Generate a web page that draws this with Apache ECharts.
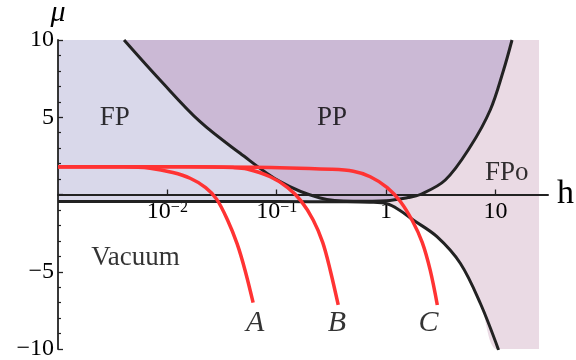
<!DOCTYPE html>
<html>
<head>
<meta charset="utf-8">
<script src="https://cdn.jsdelivr.net/npm/echarts@6/dist/echarts.min.js"></script>
<style>
    html, body { margin: 0; padding: 0; background: #fff; }
    #chart { width: 576px; height: 360px; }
</style>
</head>
<body>
<div id="chart"></div>
<script>
    // curves: log10(h) and mu
    const ppLogH = [-2.396, -2.067, -1.701, -1.335, -0.969, -0.603, -0.3, 0, 0.2, 0.312, 0.541, 0.769, 0.952, 1.074, 1.151];
    const ppMu   = [10, 7.41, 4.71, 2.67, 0.83, -0.23, -0.44, -0.4, -0.2, 0, 0.94, 3.09, 5.47, 8.06, 10];

    const vacLogH = [-3, -1, -0.4, -0.15, 0.007, 0.12, 0.248, 0.465, 0.678, 0.861, 1.028];
    const vacMu   = [-0.46, -0.46, -0.47, -0.5, -0.6, -1.0, -1.65, -2.73, -4.45, -7.04, -10.06];

    const aLogH = [-3, -2.4, -2.158, -1.95, -1.792, -1.65, -1.55, -1.45, -1.362, -1.29, -1.216];
    const aMu   = [1.8, 1.79, 1.7, 1.42, 1.05, 0.45, -0.3, -1.65, -3.2, -4.9, -7.0];

    const bLogH = [-3, -1.8, -1.4, -1.271, -1.06, -0.9, -0.78, -0.667, -0.58, -0.511, -0.438];
    const bMu   = [1.8, 1.79, 1.74, 1.65, 1.15, 0.45, -0.4, -1.65, -3.1, -4.9, -7.15];

    const cLogH = [-3, -1.2, -0.5, -0.3, -0.145, 0.01, 0.13, 0.24, 0.33, 0.403, 0.468];
    const cMu   = [1.8, 1.77, 1.63, 1.5, 1.15, 0.45, -0.45, -1.7, -3.1, -4.9, -7.15];

    const shadeEndH = 25;
    const hTicks = [0.01, 0.1, 1, 10];

    const regionNames = ['FP', 'PP', 'FPo', 'Vacuum'];
    const regionH = [0.0033, 0.32, 12.7, 0.0051];
    const regionMu = [4.95, 4.93, 1.37, -4.13];

    const curveNames = ['A', 'B', 'C'];
    const curveLabelH = [0.0634, 0.355, 2.44];
    const curveLabelMu = [-8.34, -8.34, -8.34];

    const serif = '"Liberation Serif", "Times New Roman", serif';
    const gridTop = 40, gridBottom = 11;
    const plotH = 360 - gridTop - gridBottom;

    function pts(logH, mu) {
        return logH.map((t, i) => [Math.pow(10, t), mu[i]]);
    }

    let vac = pts(vacLogH, vacMu);
    let fpFill = vac.filter(p => p[0] <= 1.02);
    let fpoFill = vac.filter(p => p[0] >= 1).concat([[shadeEndH, vacMu[vacMu.length - 1]]]);

    function fill(data, color, smooth) {
        return {
            type: 'line', data: data, symbol: 'none', z: 1, silent: true, smooth: smooth,
            lineStyle: { width: 0 },
            areaStyle: { color: color, opacity: 1, origin: 'end' }
        };
    }
    function curve(data, color, width, z) {
        return {
            type: 'line', data: data, symbol: 'none', z: z, smooth: 0.35,
            lineStyle: { color: color, width: width }
        };
    }
    function textSeries(names, hs, mus, style) {
        return {
            type: 'scatter', z: 6, symbolSize: 1, itemStyle: { color: 'transparent' },
            data: names.map((n, i) => [hs[i], mus[i], n]),
            label: Object.assign({ show: true, position: 'inside', color: '#000', fontFamily: serif,
                formatter: p => p.data[2] }, style)
        };
    }

    let chart = echarts.init(document.getElementById('chart'));
    let option = {
        animation: false,
        grid: { left: 58, right: 28, top: gridTop, bottom: gridBottom, outerBoundsMode: 'none', containLabel: false },
        xAxis: {
            type: 'log', logBase: 10, min: 0.001, max: 30.2, z: 3,
            position: 'bottom', offset: -plotH / 2,
            name: 'h', nameLocation: 'end', nameGap: 9,
            nameTextStyle: { fontFamily: serif, fontSize: 34, color: '#000' },
            axisLine: { onZero: false, lineStyle: { color: '#222', width: 2 } },
            axisTick: { show: true, inside: true, length: 5, customValues: hTicks, lineStyle: { color: '#222', width: 1.3 } },
            minorTick: { show: false },
            splitLine: { show: false },
            axisLabel: {
                customValues: hTicks, margin: 5, color: '#000', fontFamily: serif, fontSize: 24,
                formatter: v => {
                    let e = Math.round(Math.log10(v));
                    return e >= 0 ? String(Math.round(Math.pow(10, e))) : '10{s|−' + (-e) + '}';
                },
                rich: { s: { fontFamily: serif, fontSize: 16, verticalAlign: 'top', color: '#000' } }
            }
        },
        yAxis: {
            type: 'value', min: -10, max: 10, interval: 5, z: 3,
            name: 'μ', nameLocation: 'end', nameGap: 10,
            nameTextStyle: { fontFamily: serif, fontSize: 30, fontStyle: 'italic', color: '#000' },
            axisLine: { show: true, onZero: false, lineStyle: { color: '#222', width: 1.8 } },
            axisTick: { show: true, inside: true, length: 5, lineStyle: { color: '#222', width: 1.3 } },
            minorTick: { show: true, splitNumber: 5, length: 3, lineStyle: { color: '#222', width: 1.2 } },
            splitLine: { show: false },
            axisLabel: {
                margin: 4, color: '#000', fontFamily: serif, fontSize: 24,
                formatter: v => v === 0 ? '' : (v < 0 ? '−' + (-v) : String(v))
            }
        },
        series: [
            fill(fpFill, '#d9d8ea', 0.35),
            fill(fpoFill, '#eadae4', 0.35),
            fill(pts(ppLogH, ppMu), '#cbb9d5', 0.35),
            curve(vac, '#222', 3, 4),
            curve(pts(ppLogH, ppMu), '#222', 3, 4),
            curve(pts(aLogH, aMu), '#ff3333', 3.5, 5),
            curve(pts(bLogH, bMu), '#ff3333', 3.5, 5),
            curve(pts(cLogH, cMu), '#ff3333', 3.5, 5),
            textSeries(regionNames, regionH, regionMu, { fontSize: 27 }),
            textSeries(curveNames, curveLabelH, curveLabelMu, { fontSize: 30, fontStyle: 'italic' })
        ]
    };
    chart.setOption(option);
</script>
</body>
</html>
